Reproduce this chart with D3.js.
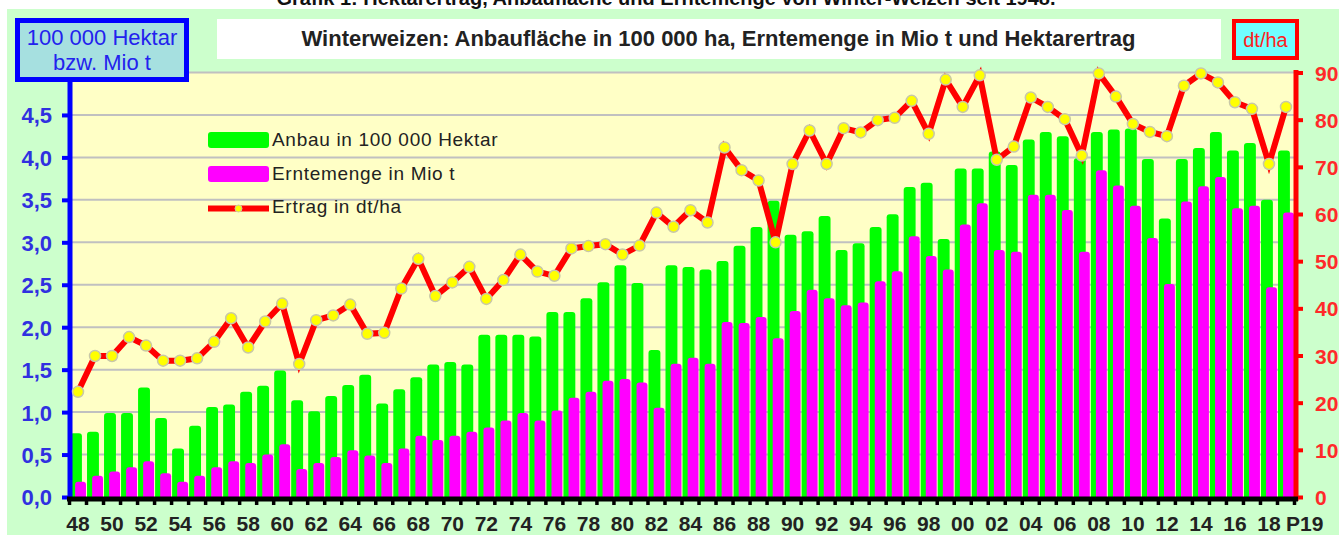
<!DOCTYPE html>
<html>
<head>
<meta charset="utf-8">
<script src="https://cdn.jsdelivr.net/npm/d3@7"></script>
<style>
  body { margin: 0; background: #ffffff; }
  svg { display: block; font-family: "Liberation Sans", Arial, sans-serif; }
</style>
</head>
<body>
<script>
//Year labels (1948 - 2019, last year provisional)
const years = [
  "48","49","50","51","52","53","54","55","56","57",
  "58","59","60","61","62","63","64","65","66","67",
  "68","69","70","71","72","73","74","75","76","77",
  "78","79","80","81","82","83","84","85","86","87",
  "88","89","90","91","92","93","94","95","96","97",
  "98","99","00","01","02","03","04","05","06","07",
  "08","09","10","11","12","13","14","15","16","17",
  "18","P19"
];
//Anbau in 100 000 Hektar
const anbau = [
  0.75,0.77,0.99,0.99,1.29,0.93,0.57,0.84,1.06,1.09,
  1.24,1.31,1.49,1.14,1.01,1.19,1.32,1.44,1.10,1.27,
  1.41,1.56,1.59,1.56,1.91,1.91,1.91,1.89,2.18,2.18,
  2.34,2.53,2.73,2.52,1.73,2.73,2.71,2.68,2.78,2.96,
  3.18,3.49,3.09,3.13,3.31,2.91,2.99,3.18,3.33,3.65,
  3.70,3.04,3.87,3.87,4.07,3.91,4.21,4.30,4.25,3.99,
  4.30,4.33,4.34,3.98,3.28,3.98,4.11,4.30,4.08,4.17,
  3.50,4.08
];
//Erntemenge in Mio t
const ernte = [
  0.18,0.25,0.30,0.35,0.42,0.28,0.18,0.25,0.35,0.42,
  0.40,0.50,0.62,0.33,0.40,0.47,0.55,0.49,0.40,0.57,
  0.72,0.67,0.72,0.77,0.82,0.90,0.99,0.90,1.02,1.17,
  1.24,1.37,1.39,1.35,1.05,1.57,1.64,1.57,2.06,2.05,
  2.12,1.87,2.19,2.44,2.34,2.26,2.29,2.54,2.66,3.07,
  2.84,2.68,3.21,3.46,2.91,2.89,3.56,3.56,3.38,2.89,
  3.85,3.67,3.43,3.05,2.51,3.48,3.66,3.77,3.40,3.43,
  2.47,3.35
];
//Ertrag in dt/ha
const ertrag = [
  22.3,29.9,29.9,33.9,32.1,28.9,28.9,29.4,32.9,37.9,
  31.7,37.2,41.0,28.2,37.5,38.5,40.8,34.6,34.8,44.2,
  50.5,42.6,45.5,48.8,42.0,46.0,51.4,47.8,46.9,52.7,
  53.2,53.6,51.4,53.3,60.3,57.3,60.8,58.2,74.1,69.3,
  67.1,54.0,70.6,77.7,70.6,78.2,77.3,79.9,80.4,84.0,
  77.0,88.5,82.7,89.4,71.5,74.3,84.7,82.7,80.1,72.4,
  89.8,84.9,79.1,77.4,76.5,87.2,89.8,87.9,83.7,82.3,
  70.6,82.7
];
const leftTicks = [0, 0.5, 1, 1.5, 2, 2.5, 3, 3.5, 4, 4.5];
const rightTicks = [0, 10, 20, 30, 40, 50, 60, 70, 80, 90];

const width = 1339, height = 535;
const plot = { left: 69.5, right: 1294.5, top: 72.5, bottom: 497 };

const svg = d3.select("body").append("svg")
    .attr("width", width)
    .attr("height", height);

//Scales
const x = d3.scaleBand().domain(years).range([plot.left, plot.right]).padding(0);
const yLeft = d3.scaleLinear().domain([0, 5]).range([plot.bottom, plot.top]);
const yRight = d3.scaleLinear().domain([0, 90]).range([plot.bottom, plot.top]);
const bw = x.bandwidth();

drawBackground();
drawBars();
drawAxes();
drawLine();
drawLegend();
drawHeaders();

//Backgrounds and grid
function drawBackground() {
    svg.append("rect").attr("x", 7).attr("y", 9)
        .attr("width", width - 7).attr("height", height - 9)
        .attr("fill", "#ccffcc");
    svg.append("rect").attr("x", plot.left).attr("y", plot.top)
        .attr("width", plot.right - plot.left).attr("height", plot.bottom - plot.top)
        .attr("fill", "#ffffc6");
    svg.append("g").selectAll("line")
        .data(yLeft.ticks(10).filter(d => d > 0))
        .enter().append("line")
            .attr("x1", plot.left).attr("x2", plot.right)
            .attr("y1", d => yLeft(d)).attr("y2", d => yLeft(d))
            .attr("stroke", "#c0c0c0").attr("stroke-width", 2);
}

//Green and magenta bars, overlapped, rounded tops
function drawBars() {
    svg.append("g").selectAll("rect")
        .data(anbau)
        .enter().append("rect")
            .attr("x", (d, i) => x(years[i]) + bw * 0.03)
            .attr("y", d => yLeft(d))
            .attr("width", bw * 0.70)
            .attr("height", d => plot.bottom - yLeft(d) + 4)
            .attr("rx", 3)
            .attr("fill", "#00ff00");
    svg.append("g").selectAll("rect")
        .data(ernte)
        .enter().append("rect")
            .attr("x", (d, i) => x(years[i]) + bw * 0.33)
            .attr("y", d => yLeft(d))
            .attr("width", bw * 0.64)
            .attr("height", d => plot.bottom - yLeft(d) + 4)
            .attr("rx", 3)
            .attr("fill", "#ff00ff");
}

//Axes: left blue, right red, bottom black
function drawAxes() {
    const leftAxis = svg.append("g")
        .attr("transform", "translate(70,0)")
        .call(d3.axisLeft(yLeft).tickValues(leftTicks).tickSize(8).tickPadding(10)
            .tickFormat(d => d3.format(".1f")(d).replace(".", ",")));
    leftAxis.select(".domain").remove();
    leftAxis.selectAll("line").attr("stroke", "#0000ff").attr("stroke-width", 4);
    leftAxis.selectAll("text")
        .attr("fill", "#3030e0")
        .style("font-size", "22px").style("font-weight", "bold")
        .attr("dy", "0.36em");
    svg.append("line").attr("x1", 70).attr("x2", 70).attr("y1", 80).attr("y2", 501)
        .attr("stroke", "#0000ff").attr("stroke-width", 5);

    const rightAxis = svg.append("g")
        .attr("transform", "translate(1296,0)")
        .call(d3.axisRight(yRight).tickValues(rightTicks).tickSize(7).tickPadding(12));
    rightAxis.select(".domain").remove();
    rightAxis.selectAll("line").attr("stroke", "#ff0000").attr("stroke-width", 4);
    rightAxis.selectAll("text")
        .attr("fill", "#ff2a2a")
        .style("font-size", "21px").style("font-weight", "bold")
        .attr("dy", "0.36em");
    svg.append("line").attr("x1", 1296).attr("x2", 1296).attr("y1", 70).attr("y2", 501)
        .attr("stroke", "#ff0000").attr("stroke-width", 5);

    //category boundary ticks
    const bounds = years.map(d => x(d)).concat([plot.right]);
    svg.append("g").selectAll("line")
        .data(bounds)
        .enter().append("line")
            .attr("x1", d => d).attr("x2", d => d)
            .attr("y1", 499).attr("y2", 505)
            .attr("stroke", "#000").attr("stroke-width", 3.5);

    const bottomAxis = svg.append("g")
        .attr("transform", "translate(0,499)")
        .call(d3.axisBottom(x).tickSize(0)
            .tickFormat((d, i) => (i % 2 === 0 || i === years.length - 1) ? d : ""));
    bottomAxis.select(".domain").remove();
    bottomAxis.selectAll("text")
        .attr("y", 32).attr("dy", 0)
        .attr("fill", "#222")
        .style("font-size", "21px").style("font-weight", "bold");
    //last label (P19) sits right of its tick in the original
    bottomAxis.selectAll("text").filter(d => d === "P19")
        .attr("text-anchor", "start").attr("x", 0);

    svg.append("line").attr("x1", 67).attr("x2", 1298).attr("y1", 499).attr("y2", 499)
        .attr("stroke", "#000").attr("stroke-width", 5);
}

//Yield line with yellow markers
function drawLine() {
    const cx = (d, i) => x(years[i]) + bw / 2;
    const line = d3.line().x(cx).y(d => yRight(d));
    svg.append("path")
        .datum(ertrag)
        .attr("d", line)
        .attr("fill", "none")
        .attr("stroke", "#ff0000")
        .attr("stroke-width", 6)
        .attr("stroke-linejoin", "miter");
    svg.append("g").selectAll("circle")
        .data(ertrag)
        .enter().append("circle")
            .attr("cx", cx)
            .attr("cy", d => yRight(d))
            .attr("r", 5.5)
            .attr("fill", "#ffff00")
            .attr("stroke", "#c8c8a8")
            .attr("stroke-width", 1.5);
}

//Legend
function drawLegend() {
    const lg = svg.append("g").attr("transform", "translate(208,0)");
    lg.append("rect").attr("x", 0).attr("y", 132).attr("width", 61).attr("height", 16)
        .attr("rx", 3).attr("fill", "#00ff00");
    lg.append("rect").attr("x", 0).attr("y", 166).attr("width", 61).attr("height", 16)
        .attr("rx", 3).attr("fill", "#ff00ff");
    lg.append("line").attr("x1", 0).attr("x2", 61).attr("y1", 208.5).attr("y2", 208.5)
        .attr("stroke", "#ff0000").attr("stroke-width", 6);
    lg.append("circle").attr("cx", 30.5).attr("cy", 208.5).attr("r", 3.5)
        .attr("fill", "#ffff00").attr("stroke", "#c8c8a8");
    const labels = ["Anbau in 100 000 Hektar", "Erntemenge in Mio t", "Ertrag in dt/ha"];
    lg.selectAll("text.lab")
        .data(labels)
        .enter().append("text")
            .attr("x", 64)
            .attr("y", (d, i) => [146, 180, 213][i])
            .attr("fill", "#222")
            .style("font-size", "19px")
            .style("letter-spacing", "0.7px")
            .text(d => d);
}

//Title strip, inner title box and unit boxes
function drawHeaders() {
    svg.append("text")
        .attr("x", 666).attr("y", 5)
        .attr("text-anchor", "middle")
        .attr("fill", "#111")
        .style("font-size", "20px").style("font-weight", "bold")
        .text("Grafik 1: Hektarertrag, Anbaufläche und Erntemenge von Winter-Weizen seit 1948.");

    svg.append("rect").attr("x", 217).attr("y", 19).attr("width", 1004).attr("height", 40)
        .attr("fill", "#ffffff");
    svg.append("text")
        .attr("x", 718.5).attr("y", 46)
        .attr("text-anchor", "middle")
        .attr("fill", "#222")
        .style("font-size", "22px").style("font-weight", "bold")
        .text("Winterweizen: Anbaufläche in 100 000 ha, Erntemenge in Mio t und Hektarertrag");

    svg.append("rect").attr("x", 17.5).attr("y", 20.5).attr("width", 169).attr("height", 59)
        .attr("fill", "#a6e0e0").attr("stroke", "#0000ff").attr("stroke-width", 5);
    svg.append("text").attr("x", 102).attr("y", 45)
        .attr("text-anchor", "middle").attr("fill", "#2222ee")
        .style("font-size", "22px").text("100 000 Hektar");
    svg.append("text").attr("x", 102).attr("y", 70)
        .attr("text-anchor", "middle").attr("fill", "#2222ee")
        .style("font-size", "22px").text("bzw. Mio t");

    svg.append("rect").attr("x", 1234).attr("y", 21).attr("width", 63).attr("height", 37)
        .attr("fill", "#70ffff").attr("stroke", "#ff0000").attr("stroke-width", 4);
    svg.append("text").attr("x", 1265.5).attr("y", 47)
        .attr("text-anchor", "middle").attr("fill", "#ff2020")
        .style("font-size", "20px").text("dt/ha");
}
</script>
</body>
</html>
